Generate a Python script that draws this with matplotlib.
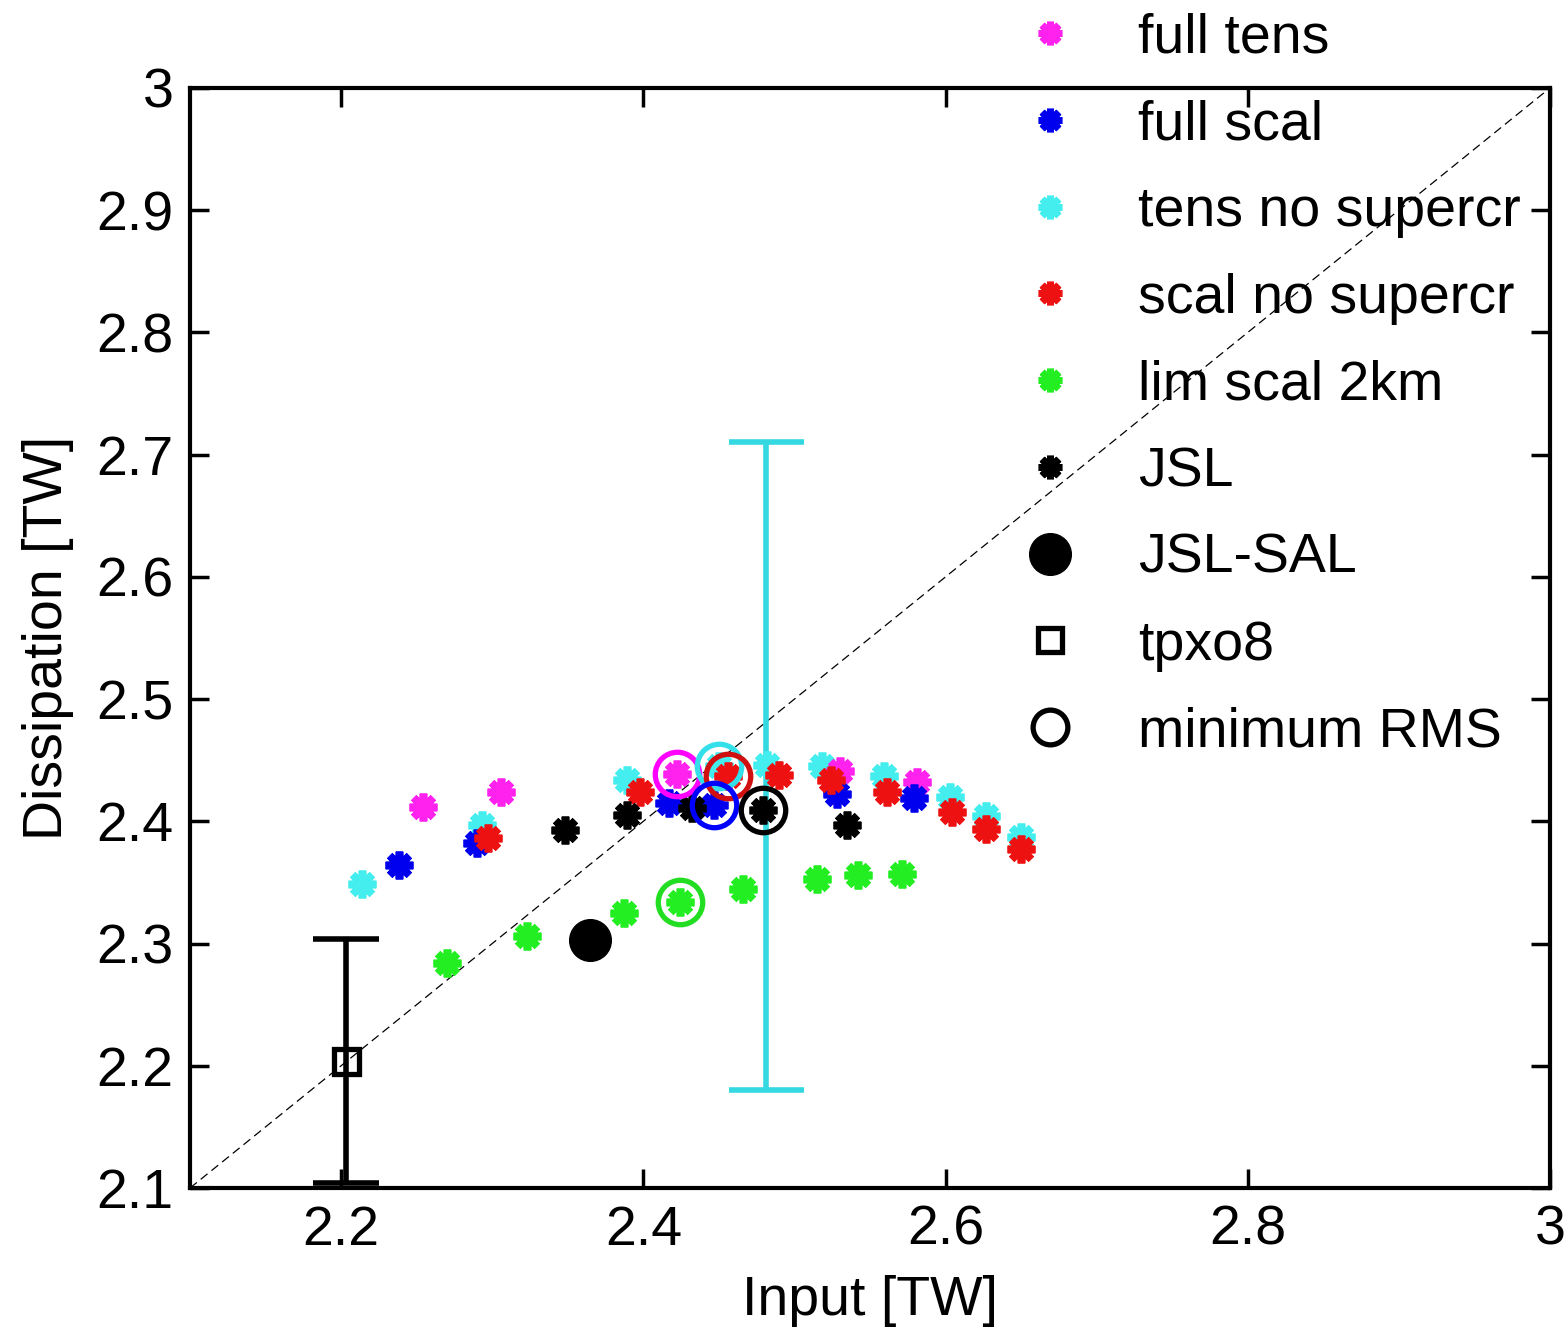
import matplotlib
matplotlib.use("Agg")
import matplotlib.pyplot as plt
from matplotlib.lines import Line2D

plt.rcParams['font.family'] = ['Liberation Sans', 'DejaVu Sans']

# ---- data ----
full_tens_x = [2.254, 2.306, 2.422, 2.530, 2.581]
full_tens_y = [2.412, 2.424, 2.439, 2.441, 2.432]

full_scal_x = [2.238, 2.290, 2.417, 2.447, 2.528, 2.579]
full_scal_y = [2.364, 2.382, 2.415, 2.413, 2.422, 2.419]

tens_ns_x = [2.214, 2.293, 2.389, 2.450, 2.482, 2.518, 2.559, 2.603, 2.627, 2.650]
tens_ns_y = [2.349, 2.397, 2.434, 2.445, 2.446, 2.445, 2.437, 2.420, 2.404, 2.387]

scal_ns_x = [2.297, 2.398, 2.456, 2.490, 2.524, 2.561, 2.604, 2.627, 2.650]
scal_ns_y = [2.386, 2.424, 2.437, 2.438, 2.434, 2.424, 2.408, 2.394, 2.377]

lim_x = [2.270, 2.323, 2.387, 2.424, 2.466, 2.515, 2.542, 2.571]
lim_y = [2.284, 2.306, 2.325, 2.334, 2.345, 2.353, 2.356, 2.357]

jsl_x = [2.348, 2.389, 2.432, 2.479, 2.535]
jsl_y = [2.393, 2.405, 2.411, 2.409, 2.397]

jsl_sal_x = [2.365]
jsl_sal_y = [2.303]

tpxo_x = [2.203]
tpxo_y = [2.204]
tpxo_err = [0.100]

cyan_err_x = [2.481]
cyan_err_y = [2.445]
cyan_err = [0.265]

minrms_x = [2.422, 2.450, 2.456, 2.447, 2.479, 2.424]
minrms_y = [2.439, 2.445, 2.437, 2.413, 2.409, 2.334]
minrms_colors = ['#ff00ff', '#33e0ea', '#d01010', '#0000ff', 'black', '#22dd22']

labels = ['full tens', 'full scal', 'tens no supercr', 'scal no supercr',
          'lim scal 2km', 'JSL', 'JSL-SAL', 'tpxo8', 'minimum RMS']

xticks = [2.2, 2.4, 2.6, 2.8, 3.0]
xticklabels = ['2.2', '2.4', '2.6', '2.8', '3']
yticks = [2.1, 2.2, 2.3, 2.4, 2.5, 2.6, 2.7, 2.8, 2.9, 3.0]
yticklabels = ['2.1', '2.2', '2.3', '2.4', '2.5', '2.6', '2.7', '2.8', '2.9', '3']

# ---- figure ----
fig = plt.figure(figsize=(15.68, 13.33), dpi=100)
ax = fig.add_axes([0.1212, 0.1088, 0.8673, 0.8252])

FS = 40
ast = (8, 2, 0)
ms = 20
mew = 5.5

# diagonal reference line
ax.plot([2.1, 3.0], [2.1, 3.0], 'k--', lw=0.9, dashes=(7, 4), zorder=1)

# error bars
ax.errorbar(cyan_err_x, cyan_err_y, yerr=cyan_err, fmt='none', ecolor='#33d8e0',
            elinewidth=4, capsize=27, capthick=4, zorder=2)
ax.errorbar(tpxo_x, tpxo_y, yerr=tpxo_err, fmt='none', ecolor='black',
            elinewidth=4, capsize=24, capthick=4, zorder=2)

series = [
    (tens_ns_x, tens_ns_y, '#44eeee'),
    (full_tens_x, full_tens_y, '#ff22ee'),
    (full_scal_x, full_scal_y, '#0000ee'),
    (scal_ns_x, scal_ns_y, '#ee1111'),
    (lim_x, lim_y, '#22ee22'),
    (jsl_x, jsl_y, 'black'),
]
for sx, sy, c in series:
    ax.plot(sx, sy, ls='none', marker=ast, ms=ms, mew=mew, mec=c, mfc=c, zorder=3)

for x, y, c in zip(minrms_x, minrms_y, minrms_colors):
    ax.plot([x], [y], ls='none', marker='o', ms=32, mew=3.8, mec=c, mfc='none', zorder=4)

ax.plot(jsl_sal_x, jsl_sal_y, ls='none', marker='o', ms=30, mfc='black', mec='black', zorder=4)
ax.plot(tpxo_x, tpxo_y, ls='none', marker='s', ms=18, mew=3.8, mec='black', mfc='none', zorder=4)

ax.set_xlim(2.1, 3.0)
ax.set_ylim(2.1, 3.0)
ax.set_xticks(xticks)
ax.set_xticklabels(xticklabels)
ax.set_yticks(yticks)
ax.set_yticklabels(yticklabels)
ax.tick_params(direction='in', length=14, width=2.5, labelsize=FS,
               top=True, right=True, pad=12)
for s in ax.spines.values():
    s.set_linewidth(3)

ax.set_xlabel('Input [TW]', fontsize=FS, labelpad=13)
ax.set_ylabel('Dissipation [TW]', fontsize=FS, labelpad=16)

# legend
lcols = ['#ff22ee', '#0000ee', '#44eeee', '#ee1111', '#22ee22', 'black']
handles = [Line2D([], [], ls='none', marker=ast, ms=17, mew=5, mec=c, mfc=c) for c in lcols]
handles.append(Line2D([], [], ls='none', marker='o', ms=30, mfc='black', mec='black'))
handles.append(Line2D([], [], ls='none', marker='s', ms=17, mew=3.8, mec='black', mfc='none'))
handles.append(Line2D([], [], ls='none', marker='o', ms=25, mew=3.8, mec='black', mfc='none'))
leg = fig.legend(handles, labels, loc='upper left', bbox_to_anchor=(0.652, 0.9905),
                 frameon=False, fontsize=FS, handlelength=1.0, handletextpad=1.08,
                 labelspacing=0.625, borderpad=0, borderaxespad=0)
leg.set_zorder(10)

fig.savefig('out.png', dpi=100)
